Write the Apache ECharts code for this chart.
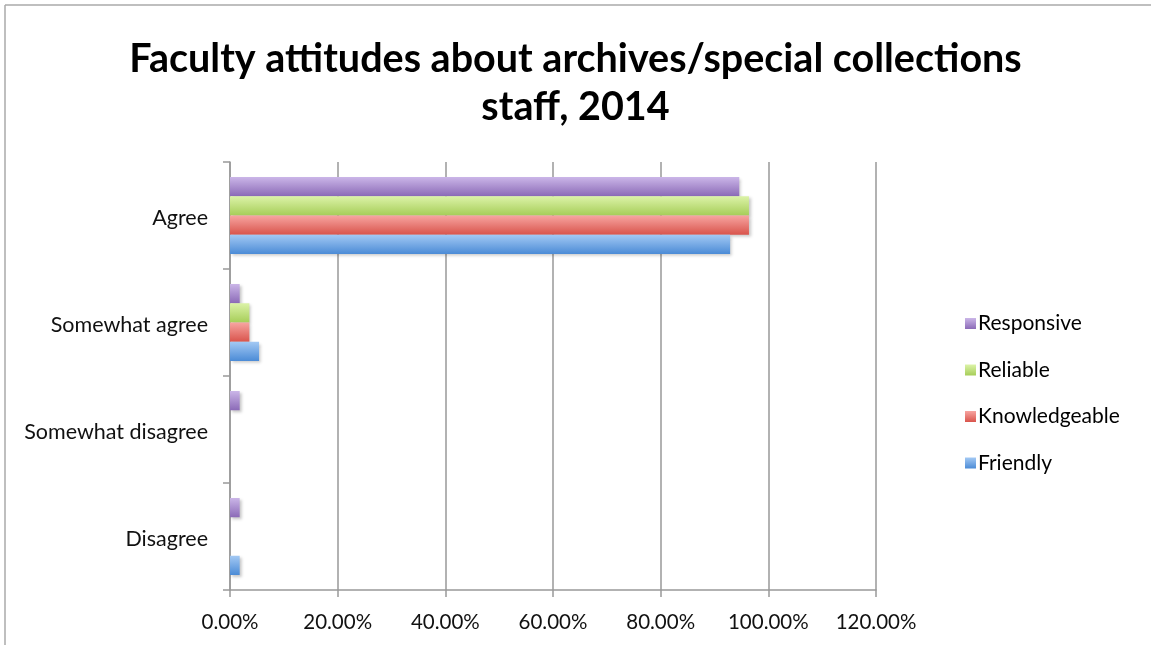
<!DOCTYPE html>
<html>

<head>
    <meta charset="utf-8">
    <title>Faculty attitudes</title>
    <script src="https://cdn.jsdelivr.net/npm/echarts@6/dist/echarts.min.js"></script>
    <style>
        html, body { margin: 0; padding: 0; background: #fff; }
        #main { width: 1151px; height: 645px; }
    </style>
</head>

<body>
    <div id="main"></div>
    <script type="text/javascript">
        // categories bottom-up (value axis on x, category axis on y)
        var categories = ['Disagree', 'Somewhat disagree', 'Somewhat agree', 'Agree'];
        var xTicks = [0, 0.2, 0.4, 0.6, 0.8, 1.0, 1.2];

        var friendly = [0.018, 0, 0.054, 0.929];
        var knowledgeable = [0, 0, 0.036, 0.964];
        var reliable = [0, 0, 0.036, 0.964];
        var responsive = [0.018, 0.018, 0.018, 0.946];

        var legendOrder = ['Responsive', 'Reliable', 'Knowledgeable', 'Friendly'];

        var font = 'Lato, "Open Sans", sans-serif';

        function grad(top, bottom) {
            return new echarts.graphic.LinearGradient(0, 0, 0, 1, [
                { offset: 0, color: top },
                { offset: 1, color: bottom }
            ]);
        }

        function barSeries(name, data, top, bottom) {
            return {
                name: name,
                type: 'bar',
                data: data,
                barGap: '0%',
                barCategoryGap: '28%',
                itemStyle: {
                    color: grad(top, bottom),
                    shadowColor: 'rgba(0,0,0,0.22)',
                    shadowBlur: 3,
                    shadowOffsetX: 2,
                    shadowOffsetY: 2
                }
            };
        }

        var myChart = echarts.init(document.getElementById('main'));

        var option = {
            animation: false,
            backgroundColor: '#fff',
            title: {
                text: 'Faculty attitudes about archives/special collections\nstaff, 2014',
                left: 'center',
                top: 30,
                textStyle: {
                    fontFamily: font,
                    fontWeight: 'bold',
                    fontSize: 39.5,
                    lineHeight: 48,
                    color: '#000'
                }
            },
            legend: {
                orient: 'vertical',
                left: 960,
                top: 308,
                data: legendOrder,
                itemWidth: 11,
                itemHeight: 11,
                itemGap: 25.5,
                icon: 'rect',
                textStyle: { fontFamily: font, fontSize: 21, color: '#000', padding: [0, 0, 0, -3] }
            },
            grid: {
                left: 230,
                right: 275,
                top: 162,
                bottom: 55,
                containLabel: false
            },
            xAxis: {
                type: 'value',
                min: xTicks[0],
                max: xTicks[xTicks.length - 1],
                interval: 0.2,
                axisLine: { show: true, lineStyle: { color: '#999', width: 1.5 } },
                axisTick: { show: true, length: 7, lineStyle: { color: '#999', width: 1.5 } },
                axisLabel: {
                    margin: 22,
                    fontFamily: font,
                    fontSize: 20.5,
                    color: '#111',
                    formatter: function (v) { return (v * 100).toFixed(2) + '%'; }
                },
                splitLine: { show: true, lineStyle: { color: '#999', width: 1.5 } }
            },
            yAxis: {
                type: 'category',
                data: categories,
                axisLine: { show: true, lineStyle: { color: '#999', width: 1.5 } },
                axisTick: { show: true, length: 7, lineStyle: { color: '#999', width: 1.5 } },
                axisLabel: {
                    margin: 22,
                    formatter: function (v) { return '{c|' + v + '}'; },
                    rich: {
                        c: {
                            fontFamily: font,
                            fontSize: 21.5,
                            color: '#111',
                            padding: [6, 0, 0, 0]
                        }
                    }
                },
                splitLine: { show: false }
            },
            series: [
                barSeries('Responsive', responsive, '#cbb6e8', '#8b6ab7'),
                barSeries('Reliable', reliable, '#dcf3a8', '#a6cd58'),
                barSeries('Knowledgeable', knowledgeable, '#f7a5a1', '#d9544c'),
                barSeries('Friendly', friendly, '#a3c9f4', '#4b8bd6')
            ],
            graphic: [
                { type: 'line', shape: { x1: 5, y1: 5, x2: 1151, y2: 5 }, style: { stroke: '#aaa', lineWidth: 1.5 } },
                { type: 'line', shape: { x1: 5, y1: 5, x2: 5, y2: 645 }, style: { stroke: '#aaa', lineWidth: 1.5 } }
            ]
        };

        myChart.setOption(option);
    </script>
</body>

</html>
